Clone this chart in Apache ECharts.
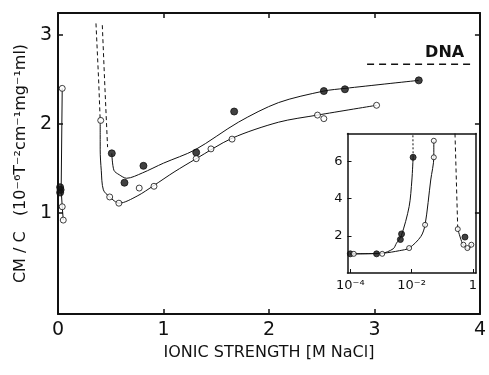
<!DOCTYPE html>
<html>
<head>
<meta charset="utf-8">
<script src="https://cdn.jsdelivr.net/npm/echarts@6/dist/echarts.min.js"></script>
<style>
  html, body { margin: 0; padding: 0; background: #fff; }
  #main { width: 489px; height: 375px; }
</style>
</head>
<body>
<div id="main"></div>
<script>
// main plot: CM/C against ionic strength [M NaCl]
var xTicks = [0, 1, 2, 3, 4]
var yTicks = [1, 2, 3]

// points near zero salt
var zeroOpen = [[0.04, 2.40], [0.04, 1.07], [0.05, 0.92]]
var zeroFilled = [[0.02, 1.29], [0.02, 1.23], [0.025, 1.26]]
var zeroLine = [[0.05, 0.92], [0.04, 1.07], [0.03, 1.26], [0.04, 2.40]]

// measured points
var openPts = [[0.405, 2.04], [0.49, 1.18], [0.577, 1.11], [0.77, 1.28], [0.91, 1.30],
  [1.31, 1.61], [1.45, 1.72], [1.65, 1.83], [2.46, 2.10], [2.52, 2.06], [3.02, 2.21]]
var filledPts = [[0.51, 1.67], [0.63, 1.34], [0.81, 1.53], [1.31, 1.68], [1.67, 2.14],
  [2.52, 2.37], [2.72, 2.39], [3.42, 2.49]]

// drawn curves
var openCurve = [[0.40, 2.03], [0.40, 1.71], [0.41, 1.48], [0.43, 1.26], [0.49, 1.18],
  [0.58, 1.11], [0.75, 1.19], [0.91, 1.31], [1.1, 1.46], [1.31, 1.61], [1.65, 1.84],
  [2.09, 2.02], [2.46, 2.10], [3.02, 2.21]]
var filledCurve = [[0.51, 1.67], [0.53, 1.48], [0.58, 1.43], [0.65, 1.39], [0.8, 1.45],
  [1.0, 1.56], [1.3, 1.71], [1.71, 2.02], [2.09, 2.24], [2.52, 2.37], [2.72, 2.40], [3.42, 2.49]]
var openDash = [[0.36, 3.13], [0.385, 2.5], [0.40, 2.04]]
var filledDash = [[0.42, 3.11], [0.445, 2.4], [0.47, 1.74]]
var dnaLevel = [[2.93, 2.67], [3.94, 2.67]]

// inset: log ionic strength
var insetXTicks = [1e-4, 1e-2, 1]
var insetYTicks = [2, 4, 6]
var insetOpen = [[1.3e-4, 1.03], [1.1e-3, 1.03], [8.3e-3, 1.34], [0.0275, 2.59], [0.053, 6.22], [0.053, 7.11],
  [0.32, 2.36], [0.49, 1.52], [0.66, 1.34], [0.89, 1.52]]
var insetFilled = [[1.0e-4, 1.03], [7.2e-4, 1.03], [4.3e-3, 1.8], [4.7e-3, 2.1], [0.0112, 6.22], [0.55, 1.93]]
var insetFilledCurve = [[1.0e-4, 1.03], [1.0e-3, 1.05], [2.5e-3, 1.3], [3.2e-3, 1.6], [4.6e-3, 2.0],
  [8.3e-3, 3.57], [0.0102, 5.0], [0.0112, 6.22]]
var insetFilledDot = [[0.0112, 6.22], [0.0110, 7.5]]
var insetOpenCurve = [[1.0e-4, 1.03], [1.2e-3, 1.07], [4e-3, 1.2], [8.3e-3, 1.34], [0.020, 1.96],
  [0.0275, 2.59], [0.042, 5.0], [0.053, 6.22], [0.053, 7.11]]
var insetRightDash = [[0.26, 7.5], [0.32, 2.36]]
var insetRightCurve = [[0.32, 2.36], [0.45, 1.6], [0.55, 1.42], [0.69, 1.28], [0.80, 1.36], [0.93, 1.57]]

var font = 'DejaVu Sans'
var ink = '#111'

function lineSeries(data, type, xi, yi, smooth) {
  return {
    type: 'line', data: data, xAxisIndex: xi, yAxisIndex: yi,
    showSymbol: false, smooth: smooth ? 0.3 : false, silent: true,
    lineStyle: { color: ink, width: 1, type: type }, z: 3
  }
}
function pointSeries(data, filled, xi, yi, size) {
  return {
    type: 'scatter', data: data, xAxisIndex: xi, yAxisIndex: yi,
    symbol: 'circle', symbolSize: size,
    itemStyle: { color: filled ? ink : '#fff', borderColor: ink, borderWidth: 1 }, z: 5
  }
}
function supLabel(v) {
  var e = Math.round(Math.log10(v))
  if (e === 0) return '1'
  return '10' + (e === -4 ? '⁻⁴' : e === -2 ? '⁻²' : e)
}

var chart = echarts.init(document.getElementById('main'))
var axisLine = { onZero: false, lineStyle: { color: ink, width: 2 } }
var insetLine = { onZero: false, lineStyle: { color: ink, width: 1.5 } }
var mainTick = { inside: true, length: 5, lineStyle: { color: ink, width: 1.5 } }

var option = {
  animation: false,
  backgroundColor: '#fff',
  textStyle: { fontFamily: font, color: ink },
  grid: [
    { left: 58, right: 6, top: 13, bottom: 61 },
    { left: 347.5, right: 13, top: 133.5, bottom: 102, show: true, backgroundColor: '#fff', borderWidth: 0 }
  ],
  xAxis: [
    {
      gridIndex: 0, type: 'value', min: 0, max: 4, interval: 1, position: 'bottom',
      axisLine: axisLine, axisTick: mainTick,
      axisLabel: { fontSize: 19, color: ink, margin: 7, fontFamily: font, customValues: xTicks },
      splitLine: { show: false },
      name: 'IONIC STRENGTH [M NaCl]', nameLocation: 'middle', nameGap: 27,
      nameTextStyle: { fontSize: 16, color: ink, fontFamily: font }
    },
    {
      gridIndex: 0, type: 'value', min: 0, max: 4, interval: 1, position: 'top',
      axisLine: axisLine, axisTick: { inside: true, length: 5, customValues: [1, 2, 3], lineStyle: { color: ink, width: 1.5 } },
      axisLabel: { show: false }, splitLine: { show: false }
    },
    {
      gridIndex: 1, type: 'log', logBase: 10, min: 8.1e-5, max: 1.26, position: 'bottom',
      axisLine: insetLine,
      axisTick: { inside: true, length: 4, customValues: insetXTicks, lineStyle: { color: ink } },
      axisLabel: { fontSize: 13, color: ink, margin: 6, fontFamily: font,
        customValues: insetXTicks, formatter: supLabel },
      splitLine: { show: false }, minorTick: { show: false }
    },
    {
      gridIndex: 1, type: 'log', logBase: 10, min: 8.1e-5, max: 1.26, position: 'top',
      axisLine: insetLine,
      axisTick: { show: false }, axisLabel: { show: false }, splitLine: { show: false }
    }
  ],
  yAxis: [
    {
      gridIndex: 0, type: 'value', min: -0.135, max: 3.247, position: 'left',
      axisLine: axisLine,
      axisTick: { inside: true, length: 5, customValues: yTicks, lineStyle: { color: ink, width: 1.5 } },
      axisLabel: { fontSize: 19, color: ink, margin: 6, fontFamily: font, customValues: yTicks },
      splitLine: { show: false },
      name: 'CM / C   (10⁻⁶T⁻²cm⁻¹mg⁻¹ml)', nameLocation: 'middle', nameGap: 29,
      nameTextStyle: { fontSize: 16, color: ink, fontFamily: font }
    },
    {
      gridIndex: 0, type: 'value', min: -0.135, max: 3.247, position: 'right',
      axisLine: axisLine,
      axisTick: { inside: true, length: 5, customValues: yTicks, lineStyle: { color: ink, width: 1.5 } },
      axisLabel: { show: false }, splitLine: { show: false }
    },
    {
      gridIndex: 1, type: 'value', min: 0, max: 7.5, position: 'left',
      axisLine: insetLine,
      axisTick: { inside: true, length: 4, customValues: insetYTicks, lineStyle: { color: ink } },
      axisLabel: { fontSize: 13, color: ink, margin: 5, fontFamily: font, customValues: insetYTicks },
      splitLine: { show: false }
    },
    {
      gridIndex: 1, type: 'value', min: 0, max: 7.5, position: 'right',
      axisLine: insetLine,
      axisTick: { show: false }, axisLabel: { show: false }, splitLine: { show: false }
    }
  ],
  series: [
    lineSeries(zeroLine, 'solid', 0, 0, false),
    lineSeries(openCurve, 'solid', 0, 0, true),
    lineSeries(filledCurve, 'solid', 0, 0, true),
    lineSeries(openDash, [4, 3], 0, 0, false),
    lineSeries(filledDash, [4, 3], 0, 0, false),
    {
      type: 'line', data: dnaLevel, xAxisIndex: 0, yAxisIndex: 0,
      showSymbol: true, symbol: 'circle', symbolSize: 0,
      lineStyle: { color: ink, width: 1.5, type: [7, 5] },
      label: { show: true, position: 'top', distance: 4, offset: [-29, 0], fontSize: 16,
        fontWeight: 'bold', fontFamily: font, color: ink,
        formatter: function (p) { return p.dataIndex === 1 ? 'DNA' : '' } },
      silent: true
    },
    pointSeries(zeroFilled, true, 0, 0, 7),
    pointSeries(zeroOpen, false, 0, 0, 6),
    pointSeries(filledPts, true, 0, 0, 7),
    pointSeries(openPts, false, 0, 0, 6),

    lineSeries(insetFilledCurve, 'solid', 2, 2, true),
    lineSeries(insetFilledDot, [2, 2], 2, 2, false),
    lineSeries(insetOpenCurve, 'solid', 2, 2, true),
    lineSeries(insetRightDash, [4, 3], 2, 2, false),
    lineSeries(insetRightCurve, 'solid', 2, 2, true),
    pointSeries(insetFilled, true, 2, 2, 6),
    pointSeries(insetOpen, false, 2, 2, 5)
  ]
}
chart.setOption(option)
</script>
</body>
</html>
